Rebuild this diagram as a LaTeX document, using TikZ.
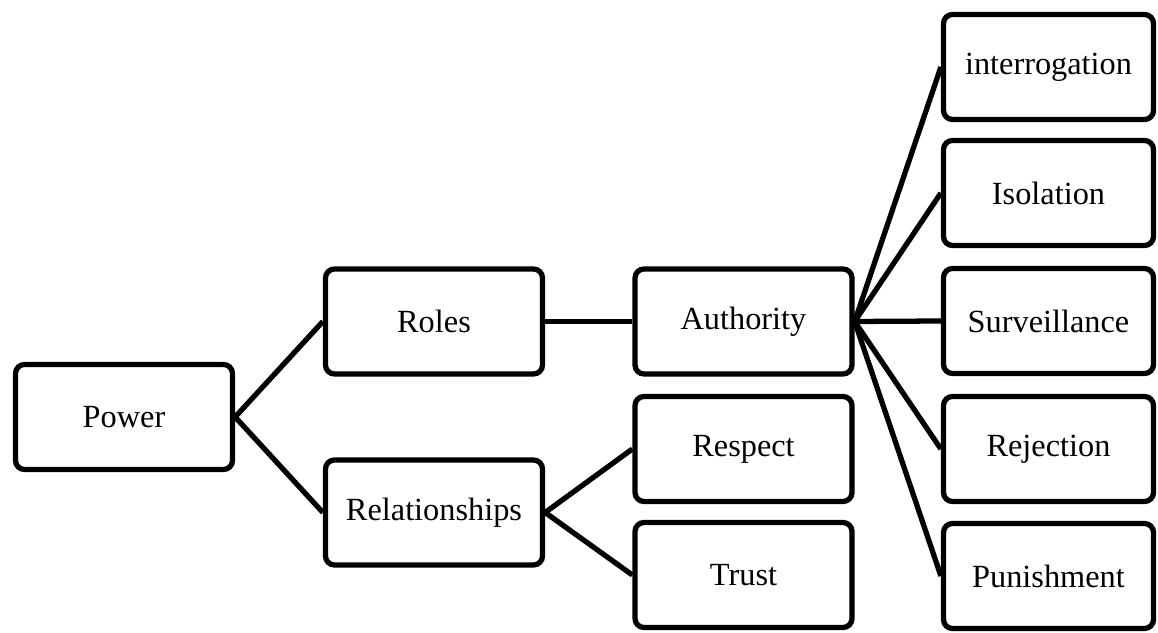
\documentclass[tikz,border=0pt]{standalone}
\usepackage{fontspec}
\setmainfont{Liberation Serif}
\usepackage{tikz}
\usetikzlibrary{positioning}

\tikzset{box/.style={draw,line width=1.5pt,rounded corners=0.09cm,minimum width=2.17cm,minimum height=1.05cm,inner sep=0pt,font=\fontsize{9.2}{11}\selectfont},
	leaf/.style={box,minimum width=2.10cm},
	link/.style={line width=1.5pt}}

\begin{document}
\begin{tikzpicture}[transform shape,scale=1]
	\useasboundingbox (0,0) rectangle (11.58,-6.33);
	\node[box] (power) at (1.24,-4.17) {Power};
	\node[box] (roles) at (4.34,-3.215) {Roles};
	\node[box] (relationships) at (4.34,-5.125) {Relationships};
	\node[box] (authority) at (7.435,-3.215) {Authority};
	\node[box] (respect) at (7.435,-4.49) {Respect};
	\node[box] (trust) at (7.435,-5.75) {Trust};
	\node[leaf] (interrogation) at (10.485,-0.67) {interrogation};
	\node[leaf] (isolation) at (10.485,-1.93) {Isolation};
	\node[leaf] (surveillance) at (10.485,-3.21) {Surveillance};
	\node[leaf] (rejection) at (10.485,-4.49) {Rejection};
	\node[leaf] (punishment) at (10.485,-5.76) {Punishment};
	\draw [link](power.east) -- (roles.west);
	\draw [link](power.east) -- (relationships.west);
	\draw [link](roles.east) -- (authority.west);
	\draw [link](relationships.east) -- (respect.west);
	\draw [link](relationships.east) -- (trust.west);
	\foreach \n in {interrogation,isolation,surveillance,rejection,punishment}
	\draw [link](authority.east) -- (\n.west);
\end{tikzpicture}
\end{document}
